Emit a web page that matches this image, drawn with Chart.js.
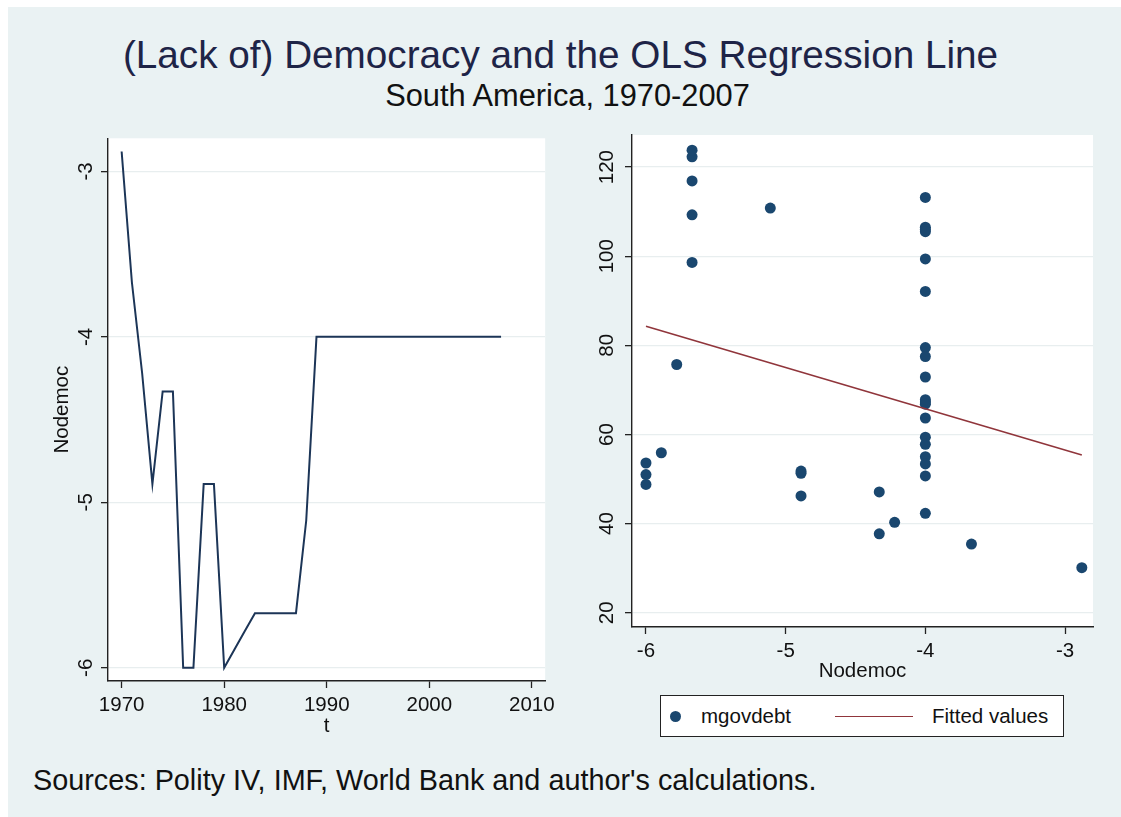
<!DOCTYPE html>
<html><head><meta charset="utf-8">
<script src="https://cdn.jsdelivr.net/npm/chart.js@4.4.0/dist/chart.umd.min.js"></script>
<style>
html,body{margin:0;padding:0;width:1121px;height:817px;background:#fff;overflow:hidden;font-family:"Liberation Sans",Arial,sans-serif;}
#bg{position:absolute;left:8px;top:7px;width:1113px;height:810px;background:#eaf2f3;}
.txt{position:absolute;white-space:nowrap;line-height:1;}
#title{left:0;width:1121px;text-align:center;top:36px;font-size:38.7px;color:#1e2447;}
#subtitle{left:7px;width:1121px;text-align:center;top:81px;font-size:30.8px;color:#111;}
#source{left:33px;top:766px;font-size:28.8px;color:#111;}
#c1{position:absolute;left:0;top:120px;}
#c2{position:absolute;left:560px;top:120px;}
#legend{position:absolute;left:660px;top:695px;width:402px;height:40px;background:#fff;border:1.5px solid #222;}
#legend .item{position:absolute;top:0;height:40px;display:flex;align-items:center;font-size:20.5px;color:#111;}
</style></head>
<body>
<div id="bg"></div>
<div id="title" class="txt">(Lack of) Democracy and the OLS Regression Line</div>
<div id="subtitle" class="txt">South America, 1970-2007</div>
<canvas id="c1" width="560" height="630"></canvas>
<canvas id="c2" width="561" height="570"></canvas>
<div id="legend"></div>
<div id="source" class="txt">Sources: Polity IV, IMF, World Bank and author's calculations.</div>
<script>
// ---- data ----
const years = [1970,1971,1972,1973,1974,1975,1976,1977,1978,1979,1980,1981,1982,1983,1984,1985,1986,1987,1988,1989,1990,1991,1992,1993,1994,1995,1996,1997,1998,1999,2000,2001,2002,2003,2004,2005,2006,2007];
const nodemoc = [-2.88,-3.67,-4.22,-4.89,-4.33,-4.33,-6,-6,-4.89,-4.89,-6,-5.89,-5.78,-5.67,-5.67,-5.67,-5.67,-5.67,-5.11,-4,-4,-4,-4,-4,-4,-4,-4,-4,-4,-4,-4,-4,-4,-4,-4,-4,-4,-4];
const mgovdebt = [30.1,35.4,40.3,46.2,47.1,37.7,48.8,51.0,51.3,51.8,53.6,55.9,75.7,98.6,109.3,116.9,122.3,123.8,110.8,113.2,106.5,106.0,105.5,99.4,92.1,79.5,77.5,72.9,67.8,67.3,66.8,63.7,59.4,57.8,55.0,53.4,50.7,42.3];
const fitX = [-6, -2.88];
const fitY = [84.3, 55.4];
const leftXTicks = [1970,1980,1990,2000,2010];
const leftYTicks = [-6,-5,-4,-3];
const rightXTicks = [-6,-5,-4,-3];
const rightYTicks = [20,40,60,80,100,120];
const seriesLabels = ['mgovdebt','Fitted values'];

// ---- style ----
const NAVY = '#1a476f', LINE = '#1c3557', MAROON = '#90353b', AX = '#222', TXT = '#111', GRID = '#e8eeef';
Chart.defaults.font.family = "'Liberation Sans', Arial, sans-serif";
Chart.defaults.font.size = 20.5;
Chart.defaults.color = TXT;

const plotBg = { id:'plotBg', beforeDraw(c){ const {ctx, chartArea:a} = c; ctx.save(); ctx.fillStyle='#fff'; ctx.fillRect(a.left,a.top,a.right-a.left,a.bottom-a.top); ctx.restore(); } };
const fixTicks = arr => s => { s.ticks = arr.map(v => ({value:v})); };

function xAxis(min,max,ticks,title,h,tp){
  return { type:'linear', position:'bottom', min, max,
    afterBuildTicks: fixTicks(ticks), afterFit: s => { s.height = h; },
    grid:{drawOnChartArea:false, tickLength:7, tickColor:AX, tickWidth:1.3},
    border:{color:AX, width:1.4},
    ticks:{padding:5, color:TXT, maxRotation:0, autoSkip:false, callback: v => String(v)},
    title:{display:true, text:title, color:TXT, padding:{top:0,bottom:tp}} };
}
function yAxis(min,max,ticks,title,w,pad,tp){
  return { type:'linear', position:'left', min, max,
    afterBuildTicks: fixTicks(ticks), afterFit: s => { s.width = w; },
    grid:{color:GRID, lineWidth:1.3, tickLength:7, tickColor:AX, tickWidth:1.3},
    border:{color:AX, width:1.4},
    ticks:{minRotation:90, maxRotation:90, crossAlign:'center', padding:pad, color:TXT, autoSkip:false, callback: v => String(v)},
    title:{display:!!title, text:title||'', color:TXT, padding:{top:tp,bottom:0}} };
}

new Chart(document.getElementById('c1'), {
  type:'scatter',
  data:{ datasets:[{ label:'Nodemoc', data: years.map((y,i)=>({x:y, y:nodemoc[i]})), showLine:true, borderColor:LINE, borderWidth:2, pointRadius:0, tension:0 }]},
  options:{ responsive:false, animation:false, devicePixelRatio:1,
    layout:{padding:{left:40, top:15, right:12, bottom:0}},
    plugins:{legend:{display:false}, tooltip:{enabled:false}},
    scales:{ x: xAxis(1968.67, 2011.3, leftXTicks, 't', 69, 11), y: yAxis(-6.08, -2.80, leftYTicks, 'Nodemoc', 68, 6, 10) } },
  plugins:[plotBg]
});

const ch2 = new Chart(document.getElementById('c2'), {
  type:'scatter',
  data:{ datasets:[
    { label:seriesLabels[0], data: nodemoc.map((x,i)=>({x, y:mgovdebt[i]})), backgroundColor:NAVY, borderWidth:0, pointRadius:5.5, order:1 },
    { label:seriesLabels[1], type:'line', data: fitX.map((x,i)=>({x, y:fitY[i]})), borderColor:MAROON, borderWidth:1.6, pointRadius:0, fill:false, order:0 }
  ]},
  options:{ responsive:false, animation:false, devicePixelRatio:1,
    layout:{padding:{left:0, top:15, right:28, bottom:0}},
    plugins:{legend:{display:false}, tooltip:{enabled:false}},
    scales:{ x: xAxis(-6.1, -2.8, rightXTicks, 'Nodemoc', 63, 6), y: yAxis(16.8, 127.2, rightYTicks, '', 72, 1, 0) } },
  plugins:[plotBg]
});

// HTML legend built from the chart's datasets
const lg = document.getElementById('legend');
const d0 = ch2.data.datasets[0], d1 = ch2.data.datasets[1];
lg.innerHTML =
  '<div class="item" style="left:9px"><span style="display:inline-block;width:11px;height:11px;border-radius:50%;background:'+d0.backgroundColor+';margin-right:20px"></span>'+d0.label+'</div>'+
  '<div class="item" style="left:174px"><span style="display:inline-block;width:78px;height:0;border-top:1.6px solid '+d1.borderColor+';margin-right:19px"></span>'+d1.label+'</div>';
</script>
</body></html>
